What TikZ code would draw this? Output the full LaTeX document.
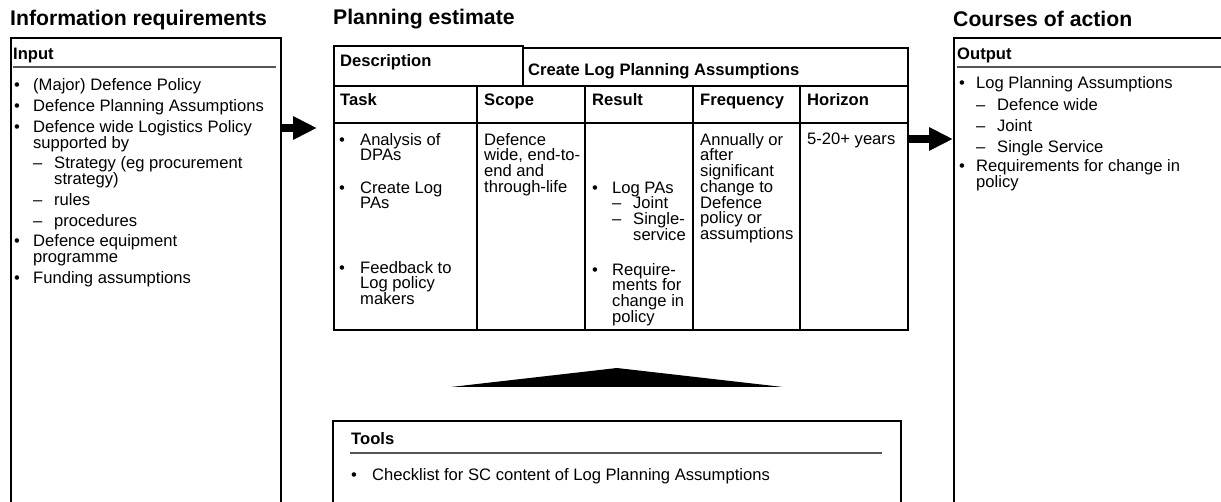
\documentclass[tikz,border=0pt]{standalone}
\usepackage{fontspec}
\setmainfont{Liberation Sans}
\usetikzlibrary{arrows.meta, positioning, calc}
\definecolor{ruleGrey}{RGB}{85, 85, 85}

\newcommand{\bodyfont}{\fontsize{16.6}{16}\selectfont}
\newcommand{\cellfont}{\fontsize{16.6}{15.7}\selectfont}
\newcommand{\st}{\rule{0pt}{12pt}}
\newcommand{\bl}[1][19pt]{\st\makebox[#1][l]{\textbullet}}
\newcommand{\ind}[1][19pt]{\makebox[#1]{}}
\newcommand{\dsh}{\makebox[21pt][l]{\textendash}}

\begin{document}
\begin{tikzpicture}[x=1pt, y=-1pt,
	box_frame/.style = {draw, line width=1.8pt, rectangle, anchor=north west, inner sep=0pt},
	txt_head/.style  = {anchor=base west, inner sep=0pt, font=\fontsize{21.2}{24}\selectfont\bfseries},
	txt_label/.style = {anchor=base west, inner sep=0pt, font=\bodyfont\bfseries},
	txt_line/.style  = {anchor=base west, inner sep=0pt, font=\bodyfont},
	txt_body/.style  = {anchor=north west, inner sep=0pt, align=left, font=\bodyfont},
	txt_cell/.style  = {anchor=north west, inner sep=0pt, align=left, font=\cellfont},
	rule_line/.style = {draw=ruleGrey, line width=1.3pt},
	arrow_fat/.style = {line width=7.5pt, -{Triangle[length=24pt, width=22pt]}}
	]
	\useasboundingbox (0,0) rectangle (1221,502);
	
	% headings
	\node[txt_head] (h_in) at (10,26) {Information requirements};
	\node[txt_head] (h_plan) at (333,25) {Planning estimate};
	\node[txt_head] (h_out) at (953,27) {Courses of action};
	
	% input box
	\node[box_frame, minimum width=270pt, minimum height=483pt] (in_box) at (10,37) {};
	\node[txt_label] (in_lbl) at (13,60) {Input};
	\draw[rule_line] (13,67) -- (276,67);
	\node[txt_body] (in_list) at (14,78) {%
		\bl(Major) Defence Policy\\[5pt]
		\bl Defence Planning Assumptions\\[5pt]
		\bl Defence wide Logistics Policy\\
		\ind supported by\\[4pt]
		\ind\dsh Strategy (eg procurement\\
		\ind\ind[21pt]strategy)\\[5pt]
		\ind\dsh rules\\[5pt]
		\ind\dsh procedures\\[4pt]
		\bl Defence equipment\\
		\ind programme\\[5pt]
		\bl Funding assumptions};
	
	% planning estimate table
	\node[box_frame, minimum width=189pt, minimum height=40pt] (tbl_desc) at (333,45) {};
	\node[box_frame, minimum width=385pt, minimum height=38pt] (tbl_ttl) at (522,47) {};
	\node[box_frame, minimum width=574pt, minimum height=244pt] (tbl_body) at (333,85) {};
	\draw[line width=1.8pt] (333,123) -- (907,123)
		(477,85) -- (477,329) (585,85) -- (585,329)
		(693,85) -- (693,329) (800,85) -- (800,329);
	
	\node[txt_label] (l_desc) at (340,67) {Description};
	\node[txt_label] (l_ttl) at (528,76) {Create Log Planning Assumptions};
	\node[txt_label] (l_task) at (340,106) {Task};
	\node[txt_label] (l_scope) at (484,106) {Scope};
	\node[txt_label] (l_result) at (592,106) {Result};
	\node[txt_label] (l_freq) at (700,106) {Frequency};
	\node[txt_label] (l_hor) at (807,106) {Horizon};
	
	\node[txt_cell] (task1) at (339,133) {\bl[21pt]Analysis of\\\ind[21pt]DPAs};
	\node[txt_cell] (task2) at (339,181) {\bl[21pt]Create Log\\\ind[21pt]PAs};
	\node[txt_cell] (task3) at (339,261) {\bl[21pt]Feedback to\\\ind[21pt]Log policy\\\ind[21pt]makers};
	\node[txt_cell] (scope) at (484,133) {\st Defence\\wide, end-to-\\end and\\through-life};
	\node[txt_cell] (res1) at (592,181) {\bl[20pt]Log PAs\\\ind[20pt]\dsh Joint\\\ind[20pt]\dsh Single-\\\ind[20pt]\ind[21pt]service};
	\node[txt_cell] (res2) at (592,263) {\bl[20pt]Require-\\\ind[20pt]ments for\\\ind[20pt]change in\\\ind[20pt]policy};
	\node[txt_cell] (freq) at (700,133) {\st Annually or\\after\\significant\\change to\\Defence\\policy or\\assumptions};
	\node[txt_line] (hor) at (807,145) {5-20+ years};
	
	% output box
	\node[box_frame, minimum width=300pt, minimum height=483pt] (out_box) at (953,37) {};
	\node[txt_label] (out_lbl) at (957,60) {Output};
	\draw[rule_line] (957,67) -- (1221,67);
	\node[txt_body] (out_list) at (959,76) {%
		\bl[17pt]Log Planning Assumptions\\[6pt]
		\ind[17pt]\dsh Defence wide\\[5pt]
		\ind[17pt]\dsh Joint\\[5pt]
		\ind[17pt]\dsh Single Service\\[3pt]
		\bl[17pt]Requirements for change in\\
		\ind[17pt]policy};
	
	% tools box
	\node[box_frame, minimum width=568pt, minimum height=100pt] (tools_box) at (332,420) {};
	\node[txt_label] (tools_lbl) at (351,445) {Tools};
	\draw[rule_line] (350,453) -- (882,453);
	\node[txt_line] (tools_item) at (351,480) {\bl[21pt]Checklist for SC content of Log Planning Assumptions};
	
	% arrows
	\coordinate (in_pt) at ([yshift=-91pt]in_box.north east);
	\coordinate (out_pt) at ([yshift=-54pt]tbl_body.north east);
	\draw[arrow_fat, shorten >=16pt] (in_pt) -- (in_pt -| tbl_body.west);
	\draw[arrow_fat] (out_pt) -- (out_pt -| out_box.west);
	\fill ($(tools_box.north)+(-166,-33)$) -- ($(tools_box.north)+(0,-52)$)
		-- ($(tools_box.north)+(166,-33)$) -- cycle;
\end{tikzpicture}
\end{document}
